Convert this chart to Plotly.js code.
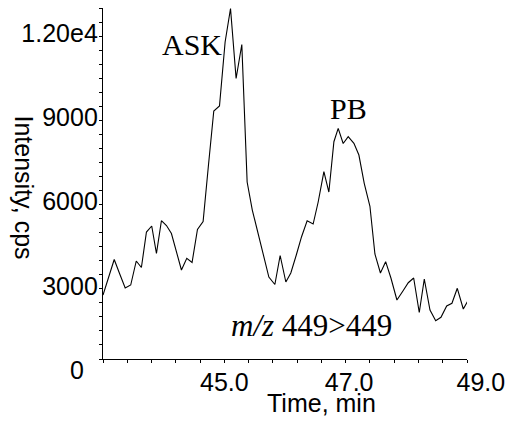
<!DOCTYPE html>
<html>
<head>
<meta charset="utf-8">
<script src="https://cdn.plot.ly/plotly-3.0.1.min.js"></script>
<style>html,body{margin:0;padding:0;background:#fff;}#chart{width:519px;height:432px;}</style>
</head>
<body>
<div id="chart"></div>
<script>
// Retention time (min)
const timeMin = [43.000,43.091,43.185,43.276,43.366,43.457,43.548,43.633,43.716,43.803,
  43.881,43.963,44.046,44.128,44.211,44.293,44.381,44.468,44.557,44.650,
  44.737,44.826,44.920,45.013,45.102,45.194,45.288,45.376,45.461,45.552,
  45.640,45.734,45.833,45.920,46.014,46.096,46.191,46.273,46.365,46.464,
  46.547,46.641,46.723,46.806,46.877,46.959,47.042,47.136,47.218,47.306,
  47.400,47.482,47.573,47.659,47.746,47.845,47.944,48.032,48.121,48.213,
  48.296,48.390,48.484,48.571,48.665,48.752,48.840,48.939,49.021];
// Intensity (cps)
const intensity = [2280,2920,3543,3027,2528,2635,3490,3258,4522,4736,
  3757,4925,4754,4469,3828,3169,3586,3436,4612,4897,
  6873,8831,9009,11288,12481,9989,11199,6303,5306,4522,
  3739,2920,2653,3686,2742,3062,3739,4355,4925,4807,
  5591,6670,5947,7738,8215,7674,7916,7681,7264,6257,
  5438,3739,3062,3465,2884,2101,2421,2717,2884,1656,
  2849,1745,1364,1485,1887,1984,2518,1781,2101];
// Tick labels
const yTickVals = [0, 3000, 6000, 9000, 12000];
const yTickText = ["0\u00a0\u00a0", "3000", "6000", "9000", "1.20e4"];
const xTickVals = [45, 47, 49];
const xTickText = ["45.0", "\u00a047.0", "\u00a0\u00a0\u00a0\u00a049.0"];
// Peak labels
const peakNames = ["ASK", "PB"];
const peakLabelTime = [44.463, 47.045];
const peakLabelInt = [11200, 8930];

const sans = "Liberation Sans, Arial, sans-serif";
const serif = "Liberation Serif, Times New Roman, serif";

const trace = {
  x: timeMin, y: intensity, type: "scatter", mode: "lines",
  line: {color: "#000", width: 1.1}, hoverinfo: "skip"
};

const annotations = peakNames.map((n, i) => ({
  x: peakLabelTime[i], y: peakLabelInt[i], xref: "x", yref: "y",
  text: n, showarrow: false, xanchor: "center", yanchor: "middle",
  font: {family: serif, size: 30, color: "#000"}
}));
annotations.push({
  x: 46.435, y: 1180, xref: "x", yref: "y",
  text: "<i>m/z</i> 449&gt;449", showarrow: false, xanchor: "center", yanchor: "middle",
  font: {family: serif, size: 31, color: "#000"}
});
annotations.push({
  x: -0.2143, y: 0.4886, xref: "paper", yref: "paper",
  text: "Intensity, cps", textangle: 90, showarrow: false,
  xanchor: "center", yanchor: "middle",
  font: {family: sans, size: 25, color: "#000"}
});
annotations.push({
  x: 0.6003, y: -0.1260, xref: "paper", yref: "paper",
  text: "Time, min", showarrow: false, xanchor: "center", yanchor: "middle",
  font: {family: sans, size: 25, color: "#000"}
});

const layout = {
  width: 519, height: 432,
  margin: {l: 103, r: 52, t: 8, b: 73, pad: 0},
  paper_bgcolor: "#fff", plot_bgcolor: "#fff",
  showlegend: false,
  xaxis: {
    range: [43, 49], showgrid: false, zeroline: false,
    showline: true, linecolor: "#000", linewidth: 1.2,
    ticks: "outside", ticklen: 3, tickcolor: "#000", tickwidth: 1,
    tickvals: xTickVals, ticktext: xTickText,
    ticklabelstandoff: -2,
    tickfont: {family: sans, size: 25, color: "#000"},
    minor: {dtick: 0.4, tick0: 43, ticks: "outside", ticklen: 3, tickcolor: "#000", showgrid: false}
  },
  yaxis: {
    range: [0, 12500], showgrid: false, zeroline: false,
    showline: true, linecolor: "#000", linewidth: 1.2,
    ticks: "outside", ticklen: 3, tickcolor: "#000", tickwidth: 1,
    tickvals: yTickVals, ticktext: yTickText,
    ticklabelshift: 11, ticklabelstandoff: -4,
    tickfont: {family: sans, size: 25, color: "#000"},
    minor: {dtick: 500, tick0: 0, ticks: "outside", ticklen: 3, tickcolor: "#000", showgrid: false}
  },
  annotations: annotations
};

Plotly.newPlot("chart", [trace], layout, {staticPlot: true, displayModeBar: false});
</script>
</body>
</html>
